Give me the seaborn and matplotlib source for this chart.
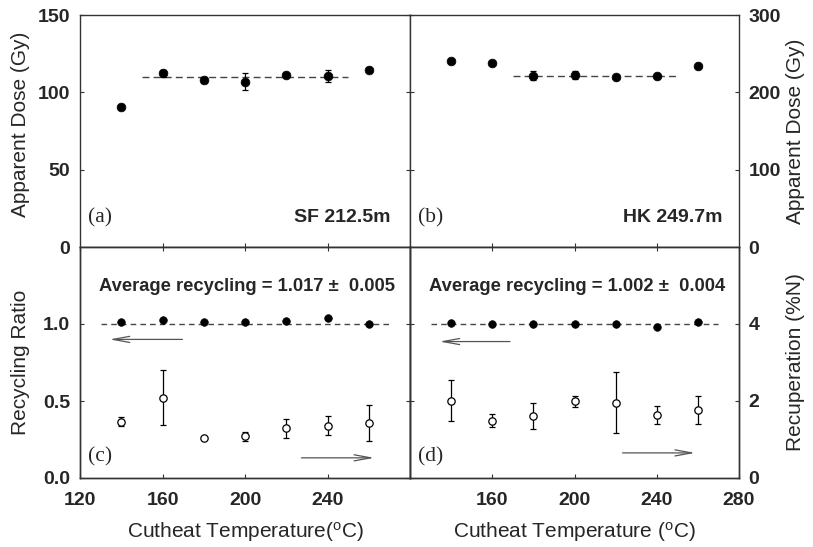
import matplotlib
matplotlib.use("Agg")
import matplotlib.pyplot as plt
import seaborn as sns
import pandas as pd

# ---------------- data ----------------
temps = [140, 160, 180, 200, 220, 240, 260]

sf_dose = [90.3, 112.3, 108.0, 106.9, 111.0, 110.6, 114.2]
sf_dose_err = [0.8, 2.2, 2.2, 5.4, 0.8, 4.0, 0.8]
hk_dose = [240.5, 237.5, 221.6, 222.4, 219.8, 220.7, 233.6]
hk_dose_err = [2.0, 2.0, 5.5, 5.0, 1.5, 1.5, 1.5]

sf_recycling = [1.015, 1.026, 1.015, 1.013, 1.021, 1.036, 1.002]
hk_recycling = [1.004, 1.000, 1.002, 1.002, 1.000, 0.978, 1.015]

sf_recup = [1.46, 2.09, 1.05, 1.08, 1.29, 1.36, 1.42]
sf_recup_err = [0.12, 0.72, 0.0, 0.12, 0.24, 0.24, 0.47]
hk_recup = [2.01, 1.49, 1.60, 1.99, 1.96, 1.64, 1.77]
hk_recup_err = [0.53, 0.16, 0.34, 0.15, 0.80, 0.24, 0.37]

sf_plateau = 110.0
sf_plateau_span = [150, 250]
hk_plateau = 221.5
hk_plateau_span = [170, 250]
recycling_ref = 1.0
recycling_span = [130, 270]

sf_avg_text = "Average recycling = 1.017 \u00b1  0.005"
hk_avg_text = "Average recycling = 1.002 \u00b1  0.004"
sf_name = "SF 212.5m"
hk_name = "HK 249.7m"

xticks_left = [120, 160, 200, 240]
xticks_right = [160, 200, 240, 280]
# --------------------------------------

sns.set_style("ticks")
plt.rcParams["font.family"] = ["Liberation Sans", "DejaVu Sans"]
plt.rcParams["mathtext.fontset"] = "custom"
plt.rcParams["mathtext.rm"] = "Liberation Sans"
plt.rcParams["mathtext.it"] = "Liberation Sans:italic"

W, H = 813, 547
fig = plt.figure(figsize=(W / 100, H / 100), dpi=100)

def frac(x0, y0, x1, y1):
    return [x0 / W, 1 - y1 / H, (x1 - x0) / W, (y1 - y0) / H]

axA = fig.add_axes(frac(80, 15, 410, 247))
axB = fig.add_axes(frac(410, 15, 739, 247))
axC = fig.add_axes(frac(80, 247, 410, 478))
axD = fig.add_axes(frac(410, 247, 739, 478))
axC2 = axC.twinx()
axD2 = axD.twinx()

spine_col = "#333333"
tick_font = dict(family="Liberation Sans", weight="bold", size=14)
label_font = dict(family="Liberation Sans", size=15)

for ax in [axA, axB, axC, axD, axC2, axD2]:
    for s in ax.spines.values():
        s.set_visible(True)
        s.set_color(spine_col)
        s.set_linewidth(1.0)
    ax.set_xlim(120, 280)
    ax.tick_params(direction="in", length=3, width=0.8, color=spine_col)

df_sf = pd.DataFrame({"T": temps, "dose": sf_dose, "err": sf_dose_err,
                      "rec": sf_recycling, "recup": sf_recup, "recup_err": sf_recup_err})
df_hk = pd.DataFrame({"T": temps, "dose": hk_dose, "err": hk_dose_err,
                      "rec": hk_recycling, "recup": hk_recup, "recup_err": hk_recup_err})

eb_kw = dict(fmt="none", ecolor="black", elinewidth=0.9, capsize=2.2, capthick=0.9, zorder=2)

# ---- panel (a)
axA.errorbar(df_sf["T"], df_sf["dose"], yerr=df_sf["err"], **eb_kw)
sns.scatterplot(data=df_sf, x="T", y="dose", ax=axA, color="black", s=40,
                edgecolor="black", linewidth=0.5, zorder=3)
axA.hlines(sf_plateau, *sf_plateau_span, colors="#444444", linestyles=(0, (5, 3)), lw=1.0, zorder=1)
axA.set_ylim(0, 150)
axA.set_yticks([0, 50, 100, 150])

# ---- panel (b)
axB.errorbar(df_hk["T"], df_hk["dose"], yerr=df_hk["err"], **eb_kw)
sns.scatterplot(data=df_hk, x="T", y="dose", ax=axB, color="black", s=40,
                edgecolor="black", linewidth=0.5, zorder=3)
axB.hlines(hk_plateau, *hk_plateau_span, colors="#444444", linestyles=(0, (5, 3)), lw=1.0, zorder=1)
axB.set_ylim(0, 300)
axB.set_yticks([0, 100, 200, 300])

# ---- panel (c)
sns.scatterplot(data=df_sf, x="T", y="rec", ax=axC, color="black", s=30,
                edgecolor="black", linewidth=0.5, zorder=3)
axC.hlines(recycling_ref, *recycling_span, colors="#444444", linestyles=(0, (4, 3)), lw=1.0, zorder=1)
axC.set_ylim(0, 1.5)
axC.set_yticks([0.0, 0.5, 1.0])
axC2.errorbar(df_sf["T"], df_sf["recup"], yerr=df_sf["recup_err"], **eb_kw)
sns.scatterplot(data=df_sf, x="T", y="recup", ax=axC2, color="white", s=28,
                edgecolor="black", linewidth=0.9, zorder=3)
axC2.set_ylim(0, 6)
axC2.set_yticks([0, 2, 4])

# ---- panel (d)
sns.scatterplot(data=df_hk, x="T", y="rec", ax=axD, color="black", s=30,
                edgecolor="black", linewidth=0.5, zorder=3)
axD.hlines(recycling_ref, *recycling_span, colors="#444444", linestyles=(0, (4, 3)), lw=1.0, zorder=1)
axD.set_ylim(0, 1.5)
axD.set_yticks([0.0, 0.5, 1.0])
axD2.errorbar(df_hk["T"], df_hk["recup"], yerr=df_hk["recup_err"], **eb_kw)
sns.scatterplot(data=df_hk, x="T", y="recup", ax=axD2, color="white", s=28,
                edgecolor="black", linewidth=0.9, zorder=3)
axD2.set_ylim(0, 6)
axD2.set_yticks([0, 2, 4])

# ---- ticks and labels
for ax in [axA, axB, axC, axD, axC2, axD2]:
    ax.set_xlabel("")
    ax.set_ylabel("")

for ax in [axA, axB]:
    ax.set_xticks([160, 200, 240])
    ax.tick_params(axis="x", bottom=True, top=False, labelbottom=False)
for ax in [axC, axD]:
    ax.tick_params(axis="x", bottom=True, top=True, labelbottom=True, pad=10)
axC.set_xticks(xticks_left)
axD.set_xticks(xticks_right)
for ax in [axC2, axD2]:
    ax.tick_params(axis="x", bottom=False, top=False, labelbottom=False)

axA.tick_params(axis="y", left=True, right=True, labelleft=True, labelright=False, pad=7)
axB.tick_params(axis="y", left=True, right=True, labelleft=False, labelright=True, pad=7)
axC.tick_params(axis="y", left=True, right=False, labelleft=True, labelright=False, pad=7)
axC2.tick_params(axis="y", left=False, right=True, labelleft=False, labelright=False)
axD.tick_params(axis="y", left=True, right=False, labelleft=False, labelright=False)
axD2.tick_params(axis="y", left=False, right=True, labelleft=False, labelright=True, pad=7)

fp_tick = matplotlib.font_manager.FontProperties(**tick_font)
for ax in [axA, axB, axC, axD, axC2, axD2]:
    for lab in ax.get_xticklabels() + ax.get_yticklabels():
        lab.set_fontproperties(fp_tick)

axC.set_yticklabels(["0.0", "0.5", "1.0"], fontproperties=fp_tick)

# axis titles
axA.set_ylabel("Apparent Dose (Gy)", **label_font)
axA.yaxis.set_label_coords(-0.152, 0.53)
axC.set_ylabel("Recycling Ratio", **label_font)
axC.yaxis.set_label_coords(-0.152, 0.5)
axB.yaxis.set_label_position("right")
axB.set_ylabel("Apparent Dose (Gy)", **label_font)
axB.yaxis.set_label_coords(1.143, 0.5)
axD2.set_ylabel("Recuperation (%N)", **label_font)
axD2.yaxis.set_label_coords(1.143, 0.5)

axC.set_xlabel(r"Cutheat Temperature($^{\mathrm{o}}$C)", **label_font)
axC.xaxis.set_label_coords(0.5, -0.18)
axD.set_xlabel(r"Cutheat Temperature ($^{\mathrm{o}}$C)", **label_font)
axD.xaxis.set_label_coords(0.5, -0.18)

# panel annotations
serif = dict(family="Liberation Serif", size=15.5)
for ax, letter, yy in [(axA, "(a)", 0.125), (axB, "(b)", 0.125), (axC, "(c)", 0.09), (axD, "(d)", 0.09)]:
    ax.text(0.025, yy, letter, transform=ax.transAxes, va="center", ha="left", **serif)

name_font = dict(family="Liberation Sans", size=14, weight="bold")
axA.text(0.94, 0.125, sf_name, transform=axA.transAxes, ha="right", va="center", **name_font)
axB.text(0.95, 0.125, hk_name, transform=axB.transAxes, ha="right", va="center", **name_font)

avg_font = dict(family="Liberation Sans", size=13.2, weight="bold")
axC.text(0.506, 0.828, sf_avg_text, transform=axC.transAxes, ha="center", va="center", **avg_font)
axD.text(0.507, 0.828, hk_avg_text, transform=axD.transAxes, ha="center", va="center", **avg_font)

# arrows
arrow_kw = dict(arrowstyle="->,head_length=1.2,head_width=0.22", color="#555555", lw=0.9)
axC.annotate("", xy=(133, 0.90), xytext=(171, 0.90), arrowprops=arrow_kw)
axC.annotate("", xy=(264, 0.131), xytext=(226, 0.131), arrowprops=arrow_kw)
axD.annotate("", xy=(133, 0.886), xytext=(170, 0.886), arrowprops=arrow_kw)
axD.annotate("", xy=(260, 0.163), xytext=(222, 0.163), arrowprops=arrow_kw)

for ax in [axA, axB, axC, axD, axC2, axD2]:
    ax.set_xlim(120, 280)

fig.savefig("out.png", dpi=100)
